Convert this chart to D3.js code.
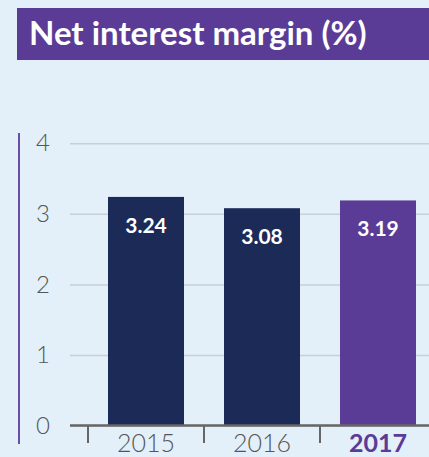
<!DOCTYPE html>
<html>
<head>
<meta charset="utf-8">
<script src="https://cdn.jsdelivr.net/npm/d3@7"></script>
<style>
  html, body { margin: 0; padding: 0; background: #e3eff9; }
  svg { display: block; }
</style>
</head>
<body>
<svg id="chart"></svg>
<script>
const years = ['2015', '2016', '2017'];
const margins = [3.24, 3.08, 3.19];
const yTicks = [0, 1, 2, 3, 4];
const highlightYear = '2017';
const title = 'Net interest margin (%)';

const W = 429, H = 457;
const font = 'Lato, "Open Sans", sans-serif';

const svg = d3.select('#chart')
  .attr('width', W)
  .attr('height', H);

svg.append('rect')
  .attr('width', W)
  .attr('height', H)
  .attr('fill', '#e3eff9');

// title band
svg.append('rect')
  .attr('x', 17)
  .attr('y', 8)
  .attr('width', W - 17)
  .attr('height', 52)
  .attr('fill', '#5a3c96');

svg.append('text')
  .attr('x', 29)
  .attr('y', 45)
  .style('font-family', font)
  .style('font-size', '33px')
  .style('font-weight', 'bold')
  .style('fill', '#fff')
  .text(title);

// left accent line
svg.append('line')
  .attr('x1', 19).attr('x2', 19)
  .attr('y1', 133).attr('y2', 444)
  .attr('stroke', '#6a4fa8')
  .attr('stroke-width', 2);

const x = d3.scaleBand()
  .domain(years)
  .range([88, 436])
  .paddingInner(0.345)
  .paddingOuter(0.1725);

const y = d3.scaleLinear()
  .domain([0, 4])
  .range([425.5, 143.3]);

// y axis + gridlines
const yAxis = svg.append('g')
  .attr('transform', 'translate(70,0)')
  .call(d3.axisLeft(y)
    .tickValues(yTicks)
    .tickFormat(d3.format('d'))
    .tickSize(-(W - 70))
    .tickPadding(20));

yAxis.select('.domain').remove();
yAxis.selectAll('.tick line')
  .attr('stroke', '#c9cfd6')
  .attr('stroke-width', 1.5);
yAxis.selectAll('.tick text')
  .style('font-family', font)
  .style('font-size', '24px')
  .style('font-weight', 300)
  .style('fill', '#555');

// bars
svg.selectAll('.bar')
  .data(years)
  .enter()
  .append('rect')
  .attr('class', 'bar')
  .attr('x', (d) => x(d))
  .attr('y', (d, i) => y(margins[i]))
  .attr('width', x.bandwidth())
  .attr('height', (d, i) => y(0) - y(margins[i]))
  .attr('fill', (d) => (d === highlightYear ? '#5a3c96' : '#1b2a57'));

// value labels
svg.selectAll('.val')
  .data(years)
  .enter()
  .append('text')
  .attr('class', 'val')
  .attr('x', (d) => x(d) + x.bandwidth() / 2)
  .attr('y', (d, i) => y(margins[i]) + 36)
  .attr('text-anchor', 'middle')
  .style('font-family', font)
  .style('font-size', '21px')
  .style('font-weight', 'bold')
  .style('fill', '#fff')
  .text((d, i) => margins[i].toFixed(2));

// x axis baseline
svg.append('line')
  .attr('x1', 70).attr('x2', W)
  .attr('y1', y(0)).attr('y2', y(0))
  .attr('stroke', '#666')
  .attr('stroke-width', 2.5);

// separator ticks between bands
const half = x.step() * x.paddingInner() / 2;
svg.selectAll('.sep')
  .data(years)
  .enter()
  .append('line')
  .attr('class', 'sep')
  .attr('x1', (d) => x(d) - half)
  .attr('x2', (d) => x(d) - half)
  .attr('y1', y(0))
  .attr('y2', 443)
  .attr('stroke', '#666')
  .attr('stroke-width', 2);

// x labels
svg.selectAll('.xlab')
  .data(years)
  .enter()
  .append('text')
  .attr('class', 'xlab')
  .attr('x', (d) => x(d) + x.bandwidth() / 2)
  .attr('y', 452)
  .attr('text-anchor', 'middle')
  .style('font-family', font)
  .style('font-size', '25px')
  .style('font-weight', (d) => (d === highlightYear ? 'bold' : 300))
  .style('fill', (d) => (d === highlightYear ? '#5a3c96' : '#555'))
  .text((d) => d);
</script>
</body>
</html>
